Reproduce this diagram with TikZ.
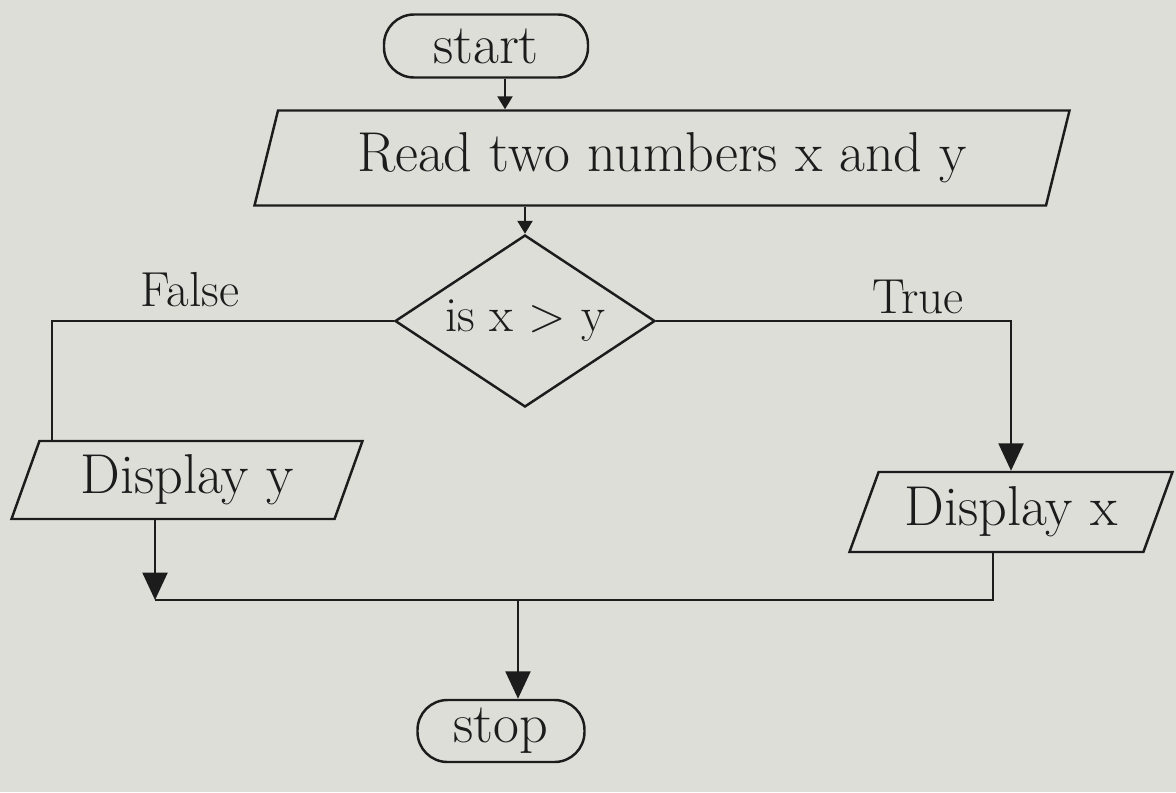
\documentclass[tikz,border=0pt]{standalone}
\usetikzlibrary{shapes.geometric,arrows.meta,calc}
\definecolor{paper}{RGB}{222,222,217}
\definecolor{ink}{RGB}{28,28,28}
\begin{document}
\begin{tikzpicture}[
  box/.style={draw=ink, line width=1.4pt, font=\fontsize{32}{38}\selectfont, text=ink},
  term/.style={box, rectangle, rounded corners=0.6cm, inner sep=0pt},
  io/.style={box, trapezium, trapezium stretches body, inner sep=0pt},
  decision/.style={box, diamond, aspect=1.5, inner sep=0pt, font=\fontsize{28}{34}\selectfont},
  flow/.style={draw=ink, line width=1.4pt},
  bigtip/.style={-{Triangle[width=0.5cm,length=0.55cm]}},
  smalltip/.style={-{Triangle[width=0.3cm,length=0.26cm]}},
  lbl/.style={font=\fontsize{28}{34}\selectfont, text=ink}
]
\fill[paper] (0,0) rectangle (23.52,-15.84);
\useasboundingbox (0,0) rectangle (23.52,-15.84);

\node[term, minimum width=4.08cm, minimum height=1.26cm] (start) at (9.72,-0.92) {start};
\node[io, trapezium left angle=65, trapezium right angle=115, minimum width=16.3cm, minimum height=1.9cm] (read) at (13.24,-3.16) {Read two numbers x and y};
\node[decision, minimum width=5.2cm, minimum height=3.44cm] (dec) at (10.5,-6.42) {is x > y};
\node[io, trapezium left angle=61, trapezium right angle=119, minimum width=7.02cm, minimum height=1.56cm] (dy) at (3.74,-9.6) {Display y};
\node[io, trapezium left angle=60, trapezium right angle=120, minimum width=6.46cm, minimum height=1.6cm] (dx) at (20.22,-10.24) {Display x};
\node[term, minimum width=3.34cm, minimum height=1.24cm] (stop) at (10.02,-14.62) {stop};

\node[lbl] (fl) at (3.8,-5.8) {False};
\node[lbl] (tl) at (18.36,-5.94) {True};

\coordinate (a1) at ([xshift=0.38cm]start.south);
\draw[flow,smalltip] (a1) -- (a1 |- read.north);
\draw[flow,smalltip] (dec.north |- read.south) -- (dec.north);

\coordinate (fy) at ([xshift=0.27cm]dy.top left corner);
\draw[flow] (dec.west) -| (fy);
\draw[flow,bigtip] (dec.east) -| (dx.north);

\coordinate (m) at (0,-12.0);
\coordinate (ya) at ([xshift=-0.64cm]dy.south);
\coordinate (xa) at ([xshift=-0.36cm]dx.south);
\coordinate (sa) at ([xshift=0.34cm]stop.north);
\draw[flow,bigtip] (ya) -- (ya |- m);
\draw[flow] (xa) -- (xa |- m) -- (ya |- m);
\draw[flow,bigtip] (sa |- m) -- (sa);
\end{tikzpicture}
\end{document}
